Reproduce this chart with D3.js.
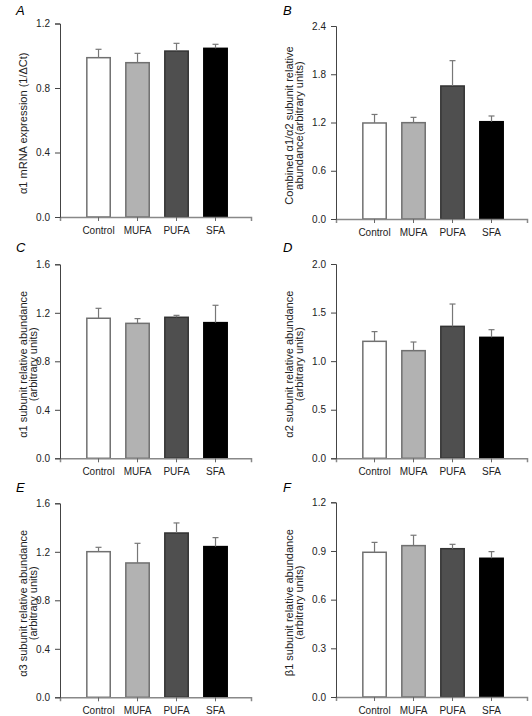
<!DOCTYPE html>
<html>
<head>
<meta charset="utf-8">
<script src="https://cdn.jsdelivr.net/npm/d3@7"></script>
<style>
  html, body { margin: 0; padding: 0; background: #fff; }
  svg { display: block; font-family: "Liberation Sans", Arial, Helvetica, sans-serif; }
</style>
</head>
<body>
<svg id="chart" width="532" height="716"></svg>
<script>
// ---- Data ----
const categories = ["Control", "MUFA", "PUFA", "SFA"];
const barFills   = ["#ffffff", "#b2b2b2", "#4f4f4f", "#000000"];
const barStrokes = ["#707070", "#707070", "#333333", "#000000"];

const panelLetters = ["A", "B", "C", "D", "E", "F"];

const titlesA = ["\u03b11 mRNA expression (1/\u0394Ct)"];
const titlesB = ["Combined \u03b11/\u03b12 subunit relative", "abundance(arbitrary units)"];
const titlesC = ["\u03b11 subunit relative abundance", "(arbitrary units)"];
const titlesD = ["\u03b12 subunit relative abundance", "(arbitrary units)"];
const titlesE = ["\u03b13 subunit relative abundance", "(arbitrary units)"];
const titlesF = ["\u03b21 subunit relative abundance", "(arbitrary units)"];

const ticksA = [0.0, 0.4, 0.8, 1.2];
const ticksB = [0.0, 0.6, 1.2, 1.8, 2.4];
const ticksC = [0.0, 0.4, 0.8, 1.2, 1.6];
const ticksD = [0.0, 0.5, 1.0, 1.5, 2.0];
const ticksE = [0.0, 0.4, 0.8, 1.2, 1.6];
const ticksF = [0.0, 0.3, 0.6, 0.9, 1.2];

const meansA = [0.988, 0.957, 1.029, 1.046];
const semA   = [0.052, 0.058, 0.048, 0.025];
const meansB = [1.194, 1.198, 1.654, 1.210];
const semB   = [0.106, 0.066, 0.315, 0.071];
const meansC = [1.155, 1.113, 1.163, 1.119];
const semC   = [0.082, 0.039, 0.016, 0.143];
const meansD = [1.204, 1.108, 1.358, 1.245];
const semD   = [0.100, 0.089, 0.230, 0.079];
const meansE = [1.201, 1.108, 1.355, 1.243];
const semE   = [0.036, 0.162, 0.083, 0.074];
const meansF = [0.892, 0.933, 0.914, 0.855];
const semF   = [0.061, 0.064, 0.027, 0.041];

// ---- Layout ----
const panels = [
  { letter: panelLetters[0], titles: titlesA, ticks: ticksA, means: meansA, sem: semA, ax: 60,  top: 23.5, bottom: 217,   lx: 16,  ly: 15,  tx: 22.5 },
  { letter: panelLetters[1], titles: titlesB, ticks: ticksB, means: meansB, sem: semB, ax: 336, top: 26,   bottom: 219,   lx: 283, ly: 15,  tx: 288.5 },
  { letter: panelLetters[2], titles: titlesC, ticks: ticksC, means: meansC, sem: semC, ax: 60,  top: 264.3,bottom: 458.3, lx: 16,  ly: 252, tx: 22.5 },
  { letter: panelLetters[3], titles: titlesD, ticks: ticksD, means: meansD, sem: semD, ax: 336, top: 264,  bottom: 458.3, lx: 283, ly: 252, tx: 288.5 },
  { letter: panelLetters[4], titles: titlesE, ticks: ticksE, means: meansE, sem: semE, ax: 60,  top: 503.3,bottom: 697.3, lx: 16,  ly: 492, tx: 22.5 },
  { letter: panelLetters[5], titles: titlesF, ticks: ticksF, means: meansF, sem: semF, ax: 336, top: 502.3,bottom: 697,   lx: 283, ly: 492, tx: 288.5 }
];

const svg = d3.select("#chart");
const axisWidth = 191;

panels.forEach(p => {
  const g = svg.append("g");

  const x = d3.scaleBand()
    .domain(categories)
    .range([p.ax, p.ax + axisWidth])
    .paddingInner(0.4)
    .paddingOuter(0.649)
    .align(0.53);

  const y = d3.scaleLinear()
    .domain([p.ticks[0], p.ticks[p.ticks.length - 1]])
    .range([p.bottom, p.top]);

  // bars
  g.selectAll("rect.bar")
    .data(categories)
    .join("rect")
    .attr("class", "bar")
    .attr("x", d => x(d))
    .attr("width", x.bandwidth())
    .attr("y", (d, i) => y(p.means[i]))
    .attr("height", (d, i) => y(0) - y(p.means[i]))
    .attr("fill", (d, i) => barFills[i])
    .attr("stroke", (d, i) => barStrokes[i])
    .attr("stroke-width", 1.5);

  // error bars (upper only)
  const eb = g.selectAll("g.err").data(categories).join("g").attr("class", "err");
  eb.append("line")
    .attr("x1", d => x(d) + x.bandwidth() / 2)
    .attr("x2", d => x(d) + x.bandwidth() / 2)
    .attr("y1", (d, i) => y(p.means[i]))
    .attr("y2", (d, i) => y(p.means[i] + p.sem[i]))
    .attr("stroke", "#777").attr("stroke-width", 1.2);
  eb.append("line")
    .attr("x1", d => x(d) + x.bandwidth() / 2 - 3)
    .attr("x2", d => x(d) + x.bandwidth() / 2 + 3)
    .attr("y1", (d, i) => y(p.means[i] + p.sem[i]))
    .attr("y2", (d, i) => y(p.means[i] + p.sem[i]))
    .attr("stroke", "#777").attr("stroke-width", 1.2);

  // x axis
  const xAxis = g.append("g")
    .attr("transform", `translate(0,${p.bottom})`)
    .call(d3.axisBottom(x).tickSizeOuter(0).tickSize(4).tickPadding(6));
  xAxis.select(".domain").attr("stroke", "#888").attr("stroke-width", 1.5);
  xAxis.selectAll(".tick line").attr("stroke", "#666");
  xAxis.selectAll("text")
    .attr("font-size", 10)
    .attr("fill", "#222")
    .attr("font-family", "Liberation Sans, Arial, sans-serif");

  // y axis
  const yAxis = g.append("g")
    .attr("transform", `translate(${p.ax},0)`)
    .call(d3.axisLeft(y).tickValues(p.ticks).tickFormat(d3.format(".1f")).tickSizeOuter(0).tickSize(5).tickPadding(5));
  yAxis.select(".domain").attr("stroke", "#444").attr("stroke-width", 1);
  yAxis.selectAll(".tick line").attr("stroke", "#444");
  yAxis.selectAll("text")
    .attr("font-size", 10)
    .attr("fill", "#222")
    .attr("font-family", "Liberation Sans, Arial, sans-serif");

  // y title
  const cy = (p.top + p.bottom) / 2 + 3;
  p.titles.forEach((t, k) => {
    g.append("text")
      .attr("transform", `translate(${p.tx + 4 + k * 10},${cy}) rotate(-90)`)
      .attr("text-anchor", "middle")
      .attr("font-size", 11)
      .attr("fill", "#222")
      .text(t);
  });

  // panel letter
  g.append("text")
    .attr("x", p.lx)
    .attr("y", p.ly)
    .attr("font-size", 13)
    .attr("font-style", "italic")
    .attr("fill", "#000")
    .text(p.letter);
});
</script>
</body>
</html>
